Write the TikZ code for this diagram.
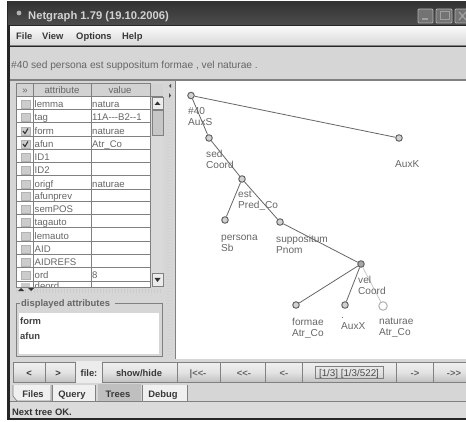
\documentclass[tikz,border=0pt]{standalone}
\usepackage{fontspec}
\setmainfont{Liberation Sans}
\definecolor{panel}{gray}{0.84}
\definecolor{ink}{gray}{0.22}
\definecolor{soft}{gray}{0.40}
\definecolor{rule}{gray}{0.50}
\tikzset{
 x=1pt,y=-1pt,
 lab/.style={font=\fontsize{10.2}{10.2}\selectfont,text=soft,inner sep=0pt,anchor=base west},
 tree/.style={lab,align=left,anchor=north west,font=\fontsize{10.1}{11.2}\selectfont},
 cell/.style={font=\fontsize{9.6}{9.6}\selectfont,text=soft,inner sep=0pt,anchor=base west},
 bold/.style={font=\bfseries\fontsize{9.4}{9.4}\selectfont,text=ink,inner sep=0pt,anchor=base west},
 tnode/.style={circle,draw=soft,fill=gray!35,line width=1pt,minimum size=6.5pt,inner sep=0pt},
 edge/.style={draw=soft,line width=.8pt},
 btn/.style={draw=rule,line width=.7pt,top color=gray!12,bottom color=gray!48,middle color=gray!22},
}
\begin{document}
\begin{tikzpicture}
\useasboundingbox (0,0) rectangle (466,422);
\fill[white] (0,0) rectangle (466,422);
\fill[black!85] (7,1) rectangle (466,420);
% title bar
\fill[top color=black!80,bottom color=black!70] (8,2) rectangle (466,25);
\node[font=\bfseries\fontsize{11.2}{11.2}\selectfont,text=gray!35,inner sep=0pt,anchor=base west] (title) at (28,20) {Netgraph 1.79 (19.10.2006)};
\fill[gray!60] (19,13) circle (2.4);
\draw[gray!60,line width=.8pt,fill=black!55,rounded corners=1pt] (418,9) rectangle (433,23);
\draw[gray!75,line width=1.3pt] (422,19) -- (428,19);
\draw[gray!60,line width=.8pt,fill=black!55,rounded corners=1pt] (436,9) rectangle (452,23);
\draw[gray!75,line width=1pt] (440,12) rectangle (449,20);
\draw[gray!60,line width=.8pt,fill=black!55,rounded corners=1pt] (455,9) rectangle (470,23);
\draw[gray!75,line width=1.3pt] (459,12) -- (466,20) (466,12) -- (459,20);
% menu
\fill[top color=gray!5,bottom color=gray!30] (10,27) rectangle (466,45);
\draw[rule,line width=1pt] (10,45.5) -- (466,45.5);
\foreach \t/\x/\n in {File/16/mfile,View/42/mview,Options/76/mopt,Help/122/mhelp}
  \node[bold] (\n) at (\x,40) {\t};
% info bar
\fill[panel] (10,47) rectangle (466,80);
\node[lab] (sent) at (11,69) {\#40 sed persona est suppositum formae , vel naturae .};
\draw[rule,line width=1.3pt] (10,80) -- (466,80);
\fill[panel] (10,81) rectangle (466,418);
% table
\fill[white] (16,84) rectangle (150,287);
\fill[gray!35] (16,84) rectangle (163,97);
\fill[gray!30] (150,97) rectangle (163,287);
\foreach \t/\y/\v/\k in {
  lemma/103/natura/0,tag/116/11A{-}{-}{-}B2{-}{-}1/0,form/130/naturae/1,afun/143/Atr\_Co/1,
  ID1/156//0,ID2/169//0,origf/183/naturae/0,afunprev/195//0,semPOS/208//0,
  tagauto/221//0,lemauto/235//0,AID/248//0,AIDREFS/261//0,ord/274/8/0}{
  \fill[gray!40,draw=gray!60,line width=.4pt] (21,\y-3) rectangle (30,\y+5);
  \ifnum\k=1 \draw[black!80,line width=1.1pt] (23,\y+1) -- (25,\y+3.5) -- (28,\y-1.5); \fi
  \draw[rule,line width=1pt] (16,\y+7) -- (150,\y+7);
  \node[cell] at (34.5,\y+4.5) {\t};
  \node[cell] at (92,\y+4.5) {\v};
}
\begin{scope}
\clip (16,281) rectangle (150,287);
\fill[gray!40] (21,283) rectangle (30,290);
\node[cell] at (34.5,290) {deord};
\end{scope}
\draw[rule,line width=1pt] (16,84) rectangle (150,287);
\draw[rule,line width=1pt] (33,84) -- (33,287) (91,84) -- (91,287);
\draw[rule,line width=1pt] (16,97) -- (163,97);
\node[cell,anchor=base] (hs) at (25,94) {»};
\node[cell,anchor=base] (ha) at (62,94) {attribute};
\node[cell,anchor=base] (hv) at (120,94) {value};
% scrollbar
\fill[gray!15,draw=rule,line width=.5pt] (152,97) rectangle (163,109);
\fill[black!80] (154.5,105) -- (160.5,105) -- (157.5,101.5) -- cycle;
\fill[gray!45,draw=rule,line width=.5pt] (152,110) rectangle (163,135);
\fill[gray!15,draw=rule,line width=.5pt] (152,273) rectangle (163,286);
\fill[black!80] (154.5,278) -- (160.5,278) -- (157.5,282) -- cycle;
% splitter
\foreach \y in {84,87,...,356}{\fill[gray!35] (166,\y) rectangle (173,\y+1);}
\fill[black!70] (171,84) -- (171,88) -- (169,86) -- cycle;
\fill[black!70] (169,93) -- (169,98) -- (171,95.5) -- cycle;
\foreach \x in {16,19,...,160}{\fill[gray!40] (\x,289) rectangle (\x+1,293);}
\fill[black!80] (18,291) -- (24,291) -- (21,288) -- cycle;
\fill[black!80] (28,288) -- (34,288) -- (31,291) -- cycle;
% displayed attributes
\draw[rule,line width=.7pt] (16,303) rectangle (162,356);
\fill[white] (19,313) rectangle (159,354);
\fill[panel] (20,298) rectangle (115,308);
\node[bold,text=soft] (da) at (21,306) {displayed attributes};
\node[bold,text=black!75] (df) at (20,324) {form};
\node[bold,text=black!75] (dn) at (20,339) {afun};
% tree panel
\fill[white] (175,81) rectangle (466,359);
\draw[rule,line width=.7pt] (175,81) -- (175,359);
\node[tnode] (n40) at (191,95.5) {};
\node[tnode] (nK) at (399,138) {};
\node[tnode] (nsed) at (209,138) {};
\node[tnode] (nest) at (242,179) {};
\node[tnode] (nper) at (225,220) {};
\node[tnode] (nsup) at (280,222) {};
\node[tnode,fill=gray!70] (nvel) at (361,264) {};
\node[tnode] (nfor) at (296,305) {};
\node[tnode] (ndot) at (345,305) {};
\node[tnode,fill=white,draw=gray!60,minimum size=8.5pt] (nnat) at (383,306) {};
\draw[edge] (n40) -- (nK);
\draw[edge] (n40) -- (nsed);
\draw[edge] (nsed) -- (nest);
\draw[edge] (nest) -- (nper);
\draw[edge] (nest) -- (nsup);
\draw[edge] (nsup) -- (nvel);
\draw[edge] (nvel) -- (nfor);
\draw[edge] (nvel) -- (ndot);
\draw[edge,draw=gray!45] (nvel) -- (nnat);
\node[tree] (l40) at (188,107.5) {\#40\\AuxS};
\node[tree] (lK) at (395,160.5) {AuxK};
\node[tree] (lsed) at (206,150) {sed\\Coord};
\node[tree] (lest) at (238,190.5) {est\\Pred\_Co};
\node[tree] (lper) at (221,234.5) {persona\\Sb};
\node[tree] (lsup) at (276,234.5) {suppositum\\Pnom};
\node[tree] (lvel) at (358,275.5) {vel\\Coord};
\node[tree] (lfor) at (292,317.5) {formae\\Atr\_Co};
\node[tree] (ldot) at (341,317.5) {.\\AuxX};
\node[tree] (lnat) at (379,317.5) {naturae\\Atr\_Co};
% tool buttons
\draw[btn] (13,362) rectangle (45,382);
\node[bold,anchor=base] (b1) at (29,376) {<};
\draw[btn] (45,362) rectangle (75,382);
\node[bold,anchor=base] (b2) at (58,376) {>};
\fill[gray!15] (76,361) rectangle (102,383);
\node[bold,anchor=base] (b3) at (89,376) {file:};
\draw[btn] (102,362) rectangle (177,382);
\node[bold,anchor=base] (b4) at (139,376) {show/hide};
\draw[btn] (177,362) rectangle (220,382);
\node[bold,anchor=base,text=soft] (b5) at (198,376) {|<{<}-};
\draw[btn] (220,362) rectangle (265,382);
\node[bold,anchor=base,text=soft] (b6) at (244,376) {<{<}-};
\draw[btn] (265,362) rectangle (302,382);
\node[bold,anchor=base,text=soft] (b7) at (284,376) {<-};
\draw[btn] (302,362) rectangle (396,382);
\node[bold,anchor=base,font=\fontsize{9.8}{9.8}\selectfont,text=black!70] (b8) at (349,376) {[1/3] [1/3/522]};
\draw[rule,line width=.5pt] (315,366) rectangle (383,378);
\draw[btn] (396,362) rectangle (433,382);
\node[bold,anchor=base,text=soft] (b9) at (415,376) {->};
\draw[btn] (433,362) rectangle (470,382);
\node[bold,anchor=base,text=soft] (b10) at (454,376) {->{>}};
% tabs
\fill[panel] (10,384) rectangle (466,400);
\draw[rule,line width=.7pt] (10,401) -- (466,401);
\draw[rule,line width=.7pt,fill=gray!12] (13,385) -- (13,396) -- (17,401) -- (51,401) -- (51,385);
\node[bold,anchor=base] (t1) at (33,397) {Files};
\draw[rule,line width=.7pt,fill=gray!12] (52,385) -- (52,401) -- (95,401) -- (95,385);
\node[bold,anchor=base] (t2) at (72,397) {Query};
\fill[gray!50] (98,384) rectangle (141,401);
\node[bold,anchor=base] (t3) at (118,397) {Trees};
\draw[rule,line width=.7pt,fill=gray!12] (142,385) -- (142,401) -- (187,401) -- (187,385);
\node[bold,anchor=base] (t4) at (163,397) {Debug};
% status
\fill[gray!28] (10,402) rectangle (466,418);
\node[bold,text=black!80] (st) at (12,415) {Next tree OK.};
\end{tikzpicture}
\end{document}
